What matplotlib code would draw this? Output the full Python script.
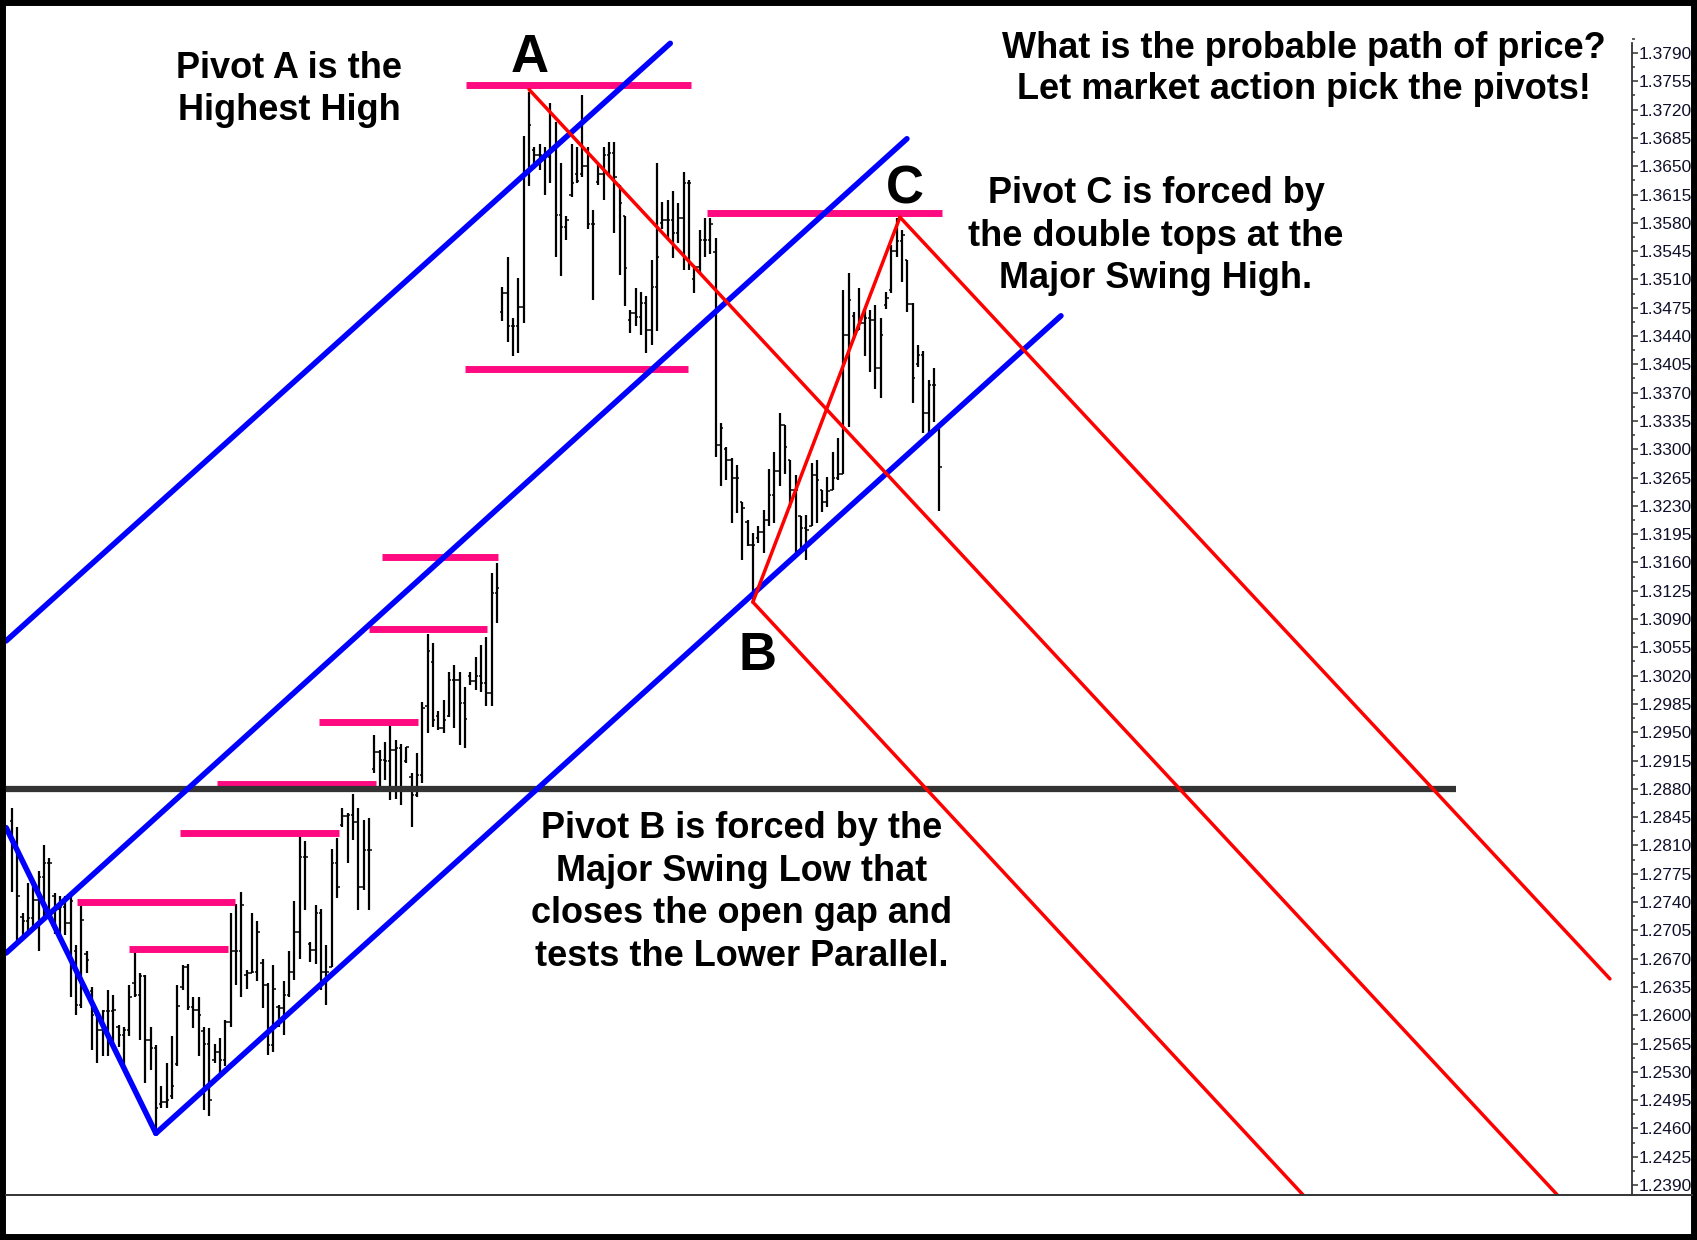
import numpy as np
import matplotlib
matplotlib.use("Agg")
import matplotlib.pyplot as plt
from matplotlib.lines import Line2D
from matplotlib.patches import Rectangle

plt.rcParams["font.family"] = ["Liberation Sans", "DejaVu Sans"]

# daily OHLC bars (price units)
highs = [
    1.2856, 1.2833, 1.2726, 1.2763, 1.2765, 1.2778, 1.2811, 1.2794, 1.2751, 1.2747,
    1.2747, 1.2751, 1.2687, 1.2738, 1.2679, 1.2635, 1.2603, 1.2607, 1.2631, 1.2625,
    1.2588, 1.2586, 1.2638, 1.2679, 1.2652, 1.2650, 1.2586, 1.2563, 1.2512, 1.2541,
    1.2574, 1.2638, 1.2662, 1.2664, 1.2623, 1.2623, 1.2586, 1.2584, 1.2565, 1.2572,
    1.2594, 1.2726, 1.2738, 1.2753, 1.2656, 1.2726, 1.2716, 1.2670, 1.2640, 1.2662,
    1.2613, 1.2642, 1.2679, 1.2741, 1.2823, 1.2815, 1.2691, 1.2736, 1.2732, 1.2687,
    1.2806, 1.2819, 1.2856, 1.2850, 1.2874, 1.2856, 1.2841, 1.2844, 1.2947, 1.2928,
    1.2938, 1.2959, 1.2940, 1.2936, 1.2932, 1.2899, 1.2924, 1.2988, 1.3072, 1.3060,
    1.2976, 1.2990, 1.3025, 1.3033, 1.3025, 1.3006, 1.3025, 1.3043, 1.3058, 1.3068,
    1.3147, 1.3159, 1.3501, 1.3538, 1.3462, 1.3512, 1.3687, 1.3742, 1.3674, 1.3678,
    1.3674, 1.3728, 1.3705, 1.3654, 1.3588, 1.3678, 1.3674, 1.3738, 1.3674, 1.3596,
    1.3652, 1.3674, 1.3680, 1.3680, 1.3627, 1.3588, 1.3472, 1.3499, 1.3495, 1.3489,
    1.3534, 1.3654, 1.3606, 1.3608, 1.3619, 1.3604, 1.3643, 1.3633, 1.3528, 1.3571,
    1.3586, 1.3586, 1.3561, 1.3332, 1.3303, 1.3289, 1.3281, 1.3235, 1.3213, 1.3196,
    1.3205, 1.3225, 1.3275, 1.3297, 1.3345, 1.3330, 1.3287, 1.3268, 1.3217, 1.3219,
    1.3283, 1.3287, 1.3250, 1.3266, 1.3297, 1.3314, 1.3497, 1.3518, 1.3470, 1.3499,
    1.3474, 1.3472, 1.3478, 1.3462, 1.3495, 1.3553, 1.3586, 1.3571, 1.3534, 1.3481,
    1.3429, 1.3421, 1.3386, 1.3400, 1.3333,
]
lows = [
    1.2753, 1.2687, 1.2693, 1.2703, 1.2706, 1.2679, 1.2718, 1.2722, 1.2701, 1.2699,
    1.2699, 1.2623, 1.2600, 1.2609, 1.2652, 1.2557, 1.2541, 1.2549, 1.2549, 1.2565,
    1.2561, 1.2532, 1.2574, 1.2623, 1.2570, 1.2516, 1.2532, 1.2454, 1.2485, 1.2485,
    1.2497, 1.2537, 1.2631, 1.2607, 1.2584, 1.2549, 1.2483, 1.2475, 1.2541, 1.2526,
    1.2537, 1.2586, 1.2638, 1.2623, 1.2633, 1.2652, 1.2642, 1.2609, 1.2551, 1.2555,
    1.2586, 1.2576, 1.2623, 1.2644, 1.2670, 1.2730, 1.2666, 1.2664, 1.2631, 1.2613,
    1.2660, 1.2745, 1.2833, 1.2788, 1.2817, 1.2730, 1.2755, 1.2730, 1.2899, 1.2883,
    1.2891, 1.2866, 1.2868, 1.2860, 1.2912, 1.2833, 1.2870, 1.2887, 1.2949, 1.2957,
    1.2953, 1.2949, 1.2969, 1.2955, 1.2934, 1.2930, 1.3009, 1.3002, 1.3000, 1.2982,
    1.2982, 1.3085, 1.3458, 1.3433, 1.3415, 1.3419, 1.3456, 1.3625, 1.3647, 1.3645,
    1.3615, 1.3629, 1.3538, 1.3514, 1.3559, 1.3612, 1.3629, 1.3637, 1.3573, 1.3485,
    1.3627, 1.3608, 1.3637, 1.3567, 1.3516, 1.3477, 1.3444, 1.3452, 1.3441, 1.3419,
    1.3429, 1.3446, 1.3573, 1.3559, 1.3536, 1.3555, 1.3522, 1.3522, 1.3493, 1.3518,
    1.3538, 1.3542, 1.3291, 1.3254, 1.3262, 1.3209, 1.3221, 1.3163, 1.3180, 1.3111,
    1.3184, 1.3172, 1.3205, 1.3209, 1.3254, 1.3270, 1.3227, 1.3172, 1.3176, 1.3163,
    1.3205, 1.3209, 1.3223, 1.3229, 1.3250, 1.3262, 1.3270, 1.3328, 1.3439, 1.3448,
    1.3415, 1.3396, 1.3375, 1.3363, 1.3474, 1.3493, 1.3538, 1.3507, 1.3470, 1.3357,
    1.3402, 1.3320, 1.3320, 1.3334, 1.3224,
]
opens = [
    1.2840, 1.2813, 1.2722, 1.2716, 1.2720, 1.2743, 1.2771, 1.2788, 1.2748, 1.2732,
    1.2734, 1.2714, 1.2680, 1.2613, 1.2676, 1.2630, 1.2600, 1.2582, 1.2605, 1.2605,
    1.2585, 1.2576, 1.2582, 1.2640, 1.2625, 1.2648, 1.2570, 1.2559, 1.2490, 1.2493,
    1.2500, 1.2540, 1.2635, 1.2660, 1.2610, 1.2607, 1.2580, 1.2565, 1.2545, 1.2555,
    1.2545, 1.2592, 1.2679, 1.2679, 1.2650, 1.2652, 1.2654, 1.2665, 1.2638, 1.2563,
    1.2610, 1.2609, 1.2625, 1.2654, 1.2703, 1.2796, 1.2688, 1.2681, 1.2726, 1.2654,
    1.2660, 1.2788, 1.2835, 1.2846, 1.2848, 1.2839, 1.2759, 1.2804, 1.2905, 1.2926,
    1.2916, 1.2914, 1.2928, 1.2930, 1.2915, 1.2895, 1.2872, 1.2897, 1.2982, 1.3037,
    1.2970, 1.2955, 1.2970, 1.3015, 1.3015, 1.2986, 1.3020, 1.3013, 1.3019, 1.3011,
    1.2998, 1.3122, 1.3470, 1.3493, 1.3452, 1.3452, 1.3476, 1.3641, 1.3670, 1.3664,
    1.3664, 1.3662, 1.3670, 1.3590, 1.3575, 1.3615, 1.3640, 1.3640, 1.3650, 1.3579,
    1.3630, 1.3641, 1.3664, 1.3666, 1.3627, 1.3588, 1.3460, 1.3468, 1.3464, 1.3481,
    1.3448, 1.3501, 1.3580, 1.3584, 1.3584, 1.3567, 1.3586, 1.3629, 1.3510, 1.3526,
    1.3559, 1.3559, 1.3544, 1.3305, 1.3300, 1.3287, 1.3264, 1.3235, 1.3210, 1.3182,
    1.3190, 1.3198, 1.3213, 1.3244, 1.3273, 1.3330, 1.3287, 1.3250, 1.3217, 1.3202,
    1.3205, 1.3268, 1.3250, 1.3235, 1.3250, 1.3264, 1.3270, 1.3441, 1.3465, 1.3448,
    1.3456, 1.3462, 1.3460, 1.3400, 1.3478, 1.3497, 1.3545, 1.3557, 1.3534, 1.3480,
    1.3405, 1.3417, 1.3345, 1.3380, 1.3330,
]
closes = [
    1.2813, 1.2747, 1.2716, 1.2720, 1.2743, 1.2771, 1.2788, 1.2788, 1.2732, 1.2734,
    1.2714, 1.2741, 1.2613, 1.2718, 1.2668, 1.2600, 1.2582, 1.2605, 1.2605, 1.2607,
    1.2576, 1.2582, 1.2623, 1.2625, 1.2648, 1.2570, 1.2559, 1.2485, 1.2493, 1.2495,
    1.2512, 1.2611, 1.2660, 1.2610, 1.2607, 1.2600, 1.2565, 1.2495, 1.2555, 1.2545,
    1.2592, 1.2679, 1.2679, 1.2736, 1.2652, 1.2654, 1.2703, 1.2638, 1.2563, 1.2633,
    1.2609, 1.2625, 1.2654, 1.2703, 1.2796, 1.2796, 1.2681, 1.2726, 1.2654, 1.2654,
    1.2788, 1.2759, 1.2846, 1.2848, 1.2839, 1.2759, 1.2804, 1.2804, 1.2926, 1.2916,
    1.2914, 1.2928, 1.2930, 1.2879, 1.2932, 1.2872, 1.2897, 1.2980, 1.3050, 1.2965,
    1.2955, 1.2965, 1.3015, 1.3015, 1.2986, 1.2967, 1.3013, 1.3019, 1.3011, 1.2998,
    1.3122, 1.3128, 1.3493, 1.3452, 1.3452, 1.3476, 1.3641, 1.3701, 1.3664, 1.3664,
    1.3662, 1.3670, 1.3590, 1.3575, 1.3584, 1.3629, 1.3632, 1.3650, 1.3579, 1.3579,
    1.3641, 1.3664, 1.3666, 1.3637, 1.3604, 1.3524, 1.3468, 1.3464, 1.3481, 1.3448,
    1.3501, 1.3538, 1.3584, 1.3584, 1.3567, 1.3586, 1.3629, 1.3629, 1.3526, 1.3559,
    1.3559, 1.3579, 1.3305, 1.3326, 1.3287, 1.3264, 1.3264, 1.3227, 1.3182, 1.3182,
    1.3198, 1.3213, 1.3244, 1.3273, 1.3330, 1.3303, 1.3250, 1.3250, 1.3202, 1.3200,
    1.3268, 1.3262, 1.3235, 1.3248, 1.3264, 1.3270, 1.3441, 1.3485, 1.3443, 1.3456,
    1.3462, 1.3460, 1.3400, 1.3441, 1.3487, 1.3545, 1.3557, 1.3565, 1.3480, 1.3388,
    1.3417, 1.3345, 1.3380, 1.3380, 1.3278,
]

# blue pitchfork lines: bar index pairs and price pairs
blue_v_x, blue_v_y = [-1.1, 27.0], [1.2832, 1.2454]
blue_low_x, blue_low_y = [27.0, 196.8], [1.2454, 1.3465]
blue_mid_x, blue_mid_y = [-1.1, 167.9], [1.2677, 1.3684]
blue_up_x, blue_up_y = [-1.1, 123.5], [1.3063, 1.3802]

# red pitchfork (A, B, C)
red_a_x, red_a_y = [97.0, 289.9], [1.3745, 1.2378]
red_b_x, red_b_y = [139.0, 242.2], [1.3111, 1.2378]
red_c_x, red_c_y = [166.6, 299.8], [1.3587, 1.2645]
red_bc_x, red_bc_y = [139.0, 166.6], [1.3111, 1.3587]

# magenta horizontal levels
pink_levels = [1.3750, 1.3399, 1.3592, 1.3167, 1.3078, 1.2963, 1.2886, 1.2826, 1.2740, 1.2682]
pink_start = [85.2, 85.0, 130.4, 69.4, 67.0, 57.6, 38.5, 31.5, 12.2, 22.0]
pink_end = [127.4, 126.8, 174.5, 91.2, 89.1, 76.2, 68.3, 61.4, 41.8, 40.5]

gap_level = 1.2880
gap_x = [-1.2, 271.0]

yticks = np.round(np.arange(1.2390, 1.37901, 0.0035), 4)
yminor = np.round(yticks + 0.00175, 5)

W, H = 1697, 1240
fig = plt.figure(figsize=(W / 100, H / 100), dpi=100)
ax = fig.add_axes([6 / W, 45 / H, 1626 / W, 1187 / H])
ax.set_xlim(-1.126, 303.94)
ax.set_ylim(1.23777, 1.38457)

idx = np.arange(len(highs))
ax.vlines(idx, lows, highs, color="black", lw=1.6, zorder=2)
ax.hlines(opens, idx - 0.45, idx, color="black", lw=1.1, zorder=2)
ax.hlines(closes, idx, idx + 0.45, color="black", lw=1.1, zorder=2)

for x0, x1, lvl in zip(pink_start, pink_end, pink_levels):
    ax.plot([x0, x1], [lvl, lvl], color="#ff0a80", lw=5, solid_capstyle="butt", zorder=3)

ax.plot(gap_x, [gap_level, gap_level], color="#333333", lw=4.5,
        solid_capstyle="butt", zorder=3)

for xs, ys in [(blue_v_x, blue_v_y), (blue_low_x, blue_low_y),
               (blue_mid_x, blue_mid_y), (blue_up_x, blue_up_y)]:
    ax.plot(xs, ys, color="#0000ff", lw=4.0, solid_capstyle="round", zorder=4)

for xs, ys in [(red_a_x, red_a_y), (red_b_x, red_b_y),
               (red_c_x, red_c_y), (red_bc_x, red_bc_y)]:
    ax.plot(xs, ys, color="#ff0000", lw=2.5, solid_capstyle="round", zorder=4)

for s in ["top", "left", "bottom"]:
    ax.spines[s].set_visible(False)
ax.spines["right"].set_color("#333333")
ax.spines["right"].set_linewidth(1.3)
ax.spines["right"].set_bounds(1.23777, 1.38024)

ax.tick_params(axis="x", which="both", bottom=False, labelbottom=False)
ax.yaxis.tick_right()
ax.set_yticks(yticks)
ax.set_yticklabels([f"{v:.4f}" for v in yticks])
ax.set_yticks(yminor, minor=True)
ax.tick_params(axis="y", which="major", length=4, width=1.1, pad=1,
               labelsize=12.5, colors="#333333", labelcolor="#10102a")
ax.tick_params(axis="y", which="minor", length=2.2, width=1.1, colors="#333333")

fig.add_artist(Line2D([6 / W, 1692 / W], [1 - 1195 / H] * 2,
                      transform=fig.transFigure, color="#333333", lw=1.4))
fig.add_artist(Rectangle((0, 0), 1, 1, transform=fig.transFigure,
                         fill=False, ec="black", lw=8.6))


def label(px, py, s, size):
    fig.text(px / W, 1 - py / H, s, ha="center", va="baseline",
             fontsize=size, fontweight="bold", color="black")


body = 26
label(289, 78, "Pivot A is the", body)
label(289, 120, "Highest High", body)
label(1304, 58, "What is the probable path of price?", body)
label(1304, 99, "Let market action pick the pivots!", body)
label(1156, 203, "Pivot C is forced by", body)
label(1156, 246, "the double tops at the", body)
label(1156, 288, "Major Swing High.", body)
label(742, 838, "Pivot B is forced by the", body)
label(742, 881, "Major Swing Low that", body)
label(742, 923, "closes the open gap and", body)
label(742, 966, "tests the Lower Parallel.", body)

big = 38
label(530, 72, "A", big)
label(905, 203, "C", big)
label(757, 670, "B", big)

fig.savefig("out.png", dpi=100, facecolor="white")
